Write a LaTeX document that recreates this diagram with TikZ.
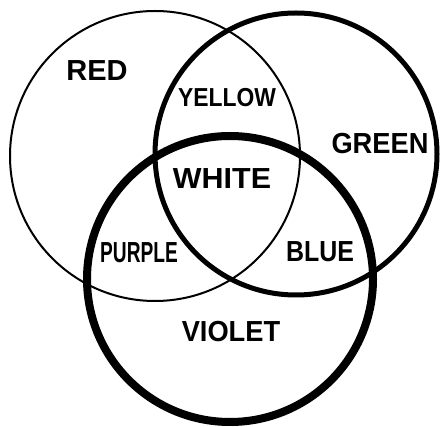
\documentclass[tikz,border=0pt]{standalone}
\usepackage{fontspec}
\setmainfont{Liberation Sans}
\begin{document}
\begin{tikzpicture}[x=1pt,y=-1pt,
  lbl/.style={font=\fontsize{29}{29}\selectfont\bfseries, inner sep=0pt},
  ring/.style={draw=black}]
\useasboundingbox (0,0) rectangle (442,427);
\coordinate (cr) at (155,156);
\coordinate (cg) at (296,154);
\coordinate (cv) at (230,279);
\draw[ring, line width=2pt] (cr) circle [radius=145];
\draw[ring, line width=5pt] (cg) circle [radius=141];
\draw[ring, line width=8pt] (cv) circle [radius=143];
\node[lbl] (red) at (97,71) {RED};
\node[lbl, font=\fontsize{26}{26}\selectfont\bfseries, xscale=0.88] (yellow) at (227,98) {YELLOW};
\node[lbl, xscale=1.05] (white) at (222,179) {WHITE};
\node[lbl, xscale=0.94] (green) at (380,144) {GREEN};
\node[lbl, xscale=0.66] (purple) at (139,253) {PURPLE};
\node[lbl, xscale=0.86] (blue) at (320,252) {BLUE};
\node[lbl, xscale=0.94] (violet) at (231,332) {VIOLET};
\end{tikzpicture}
\end{document}
